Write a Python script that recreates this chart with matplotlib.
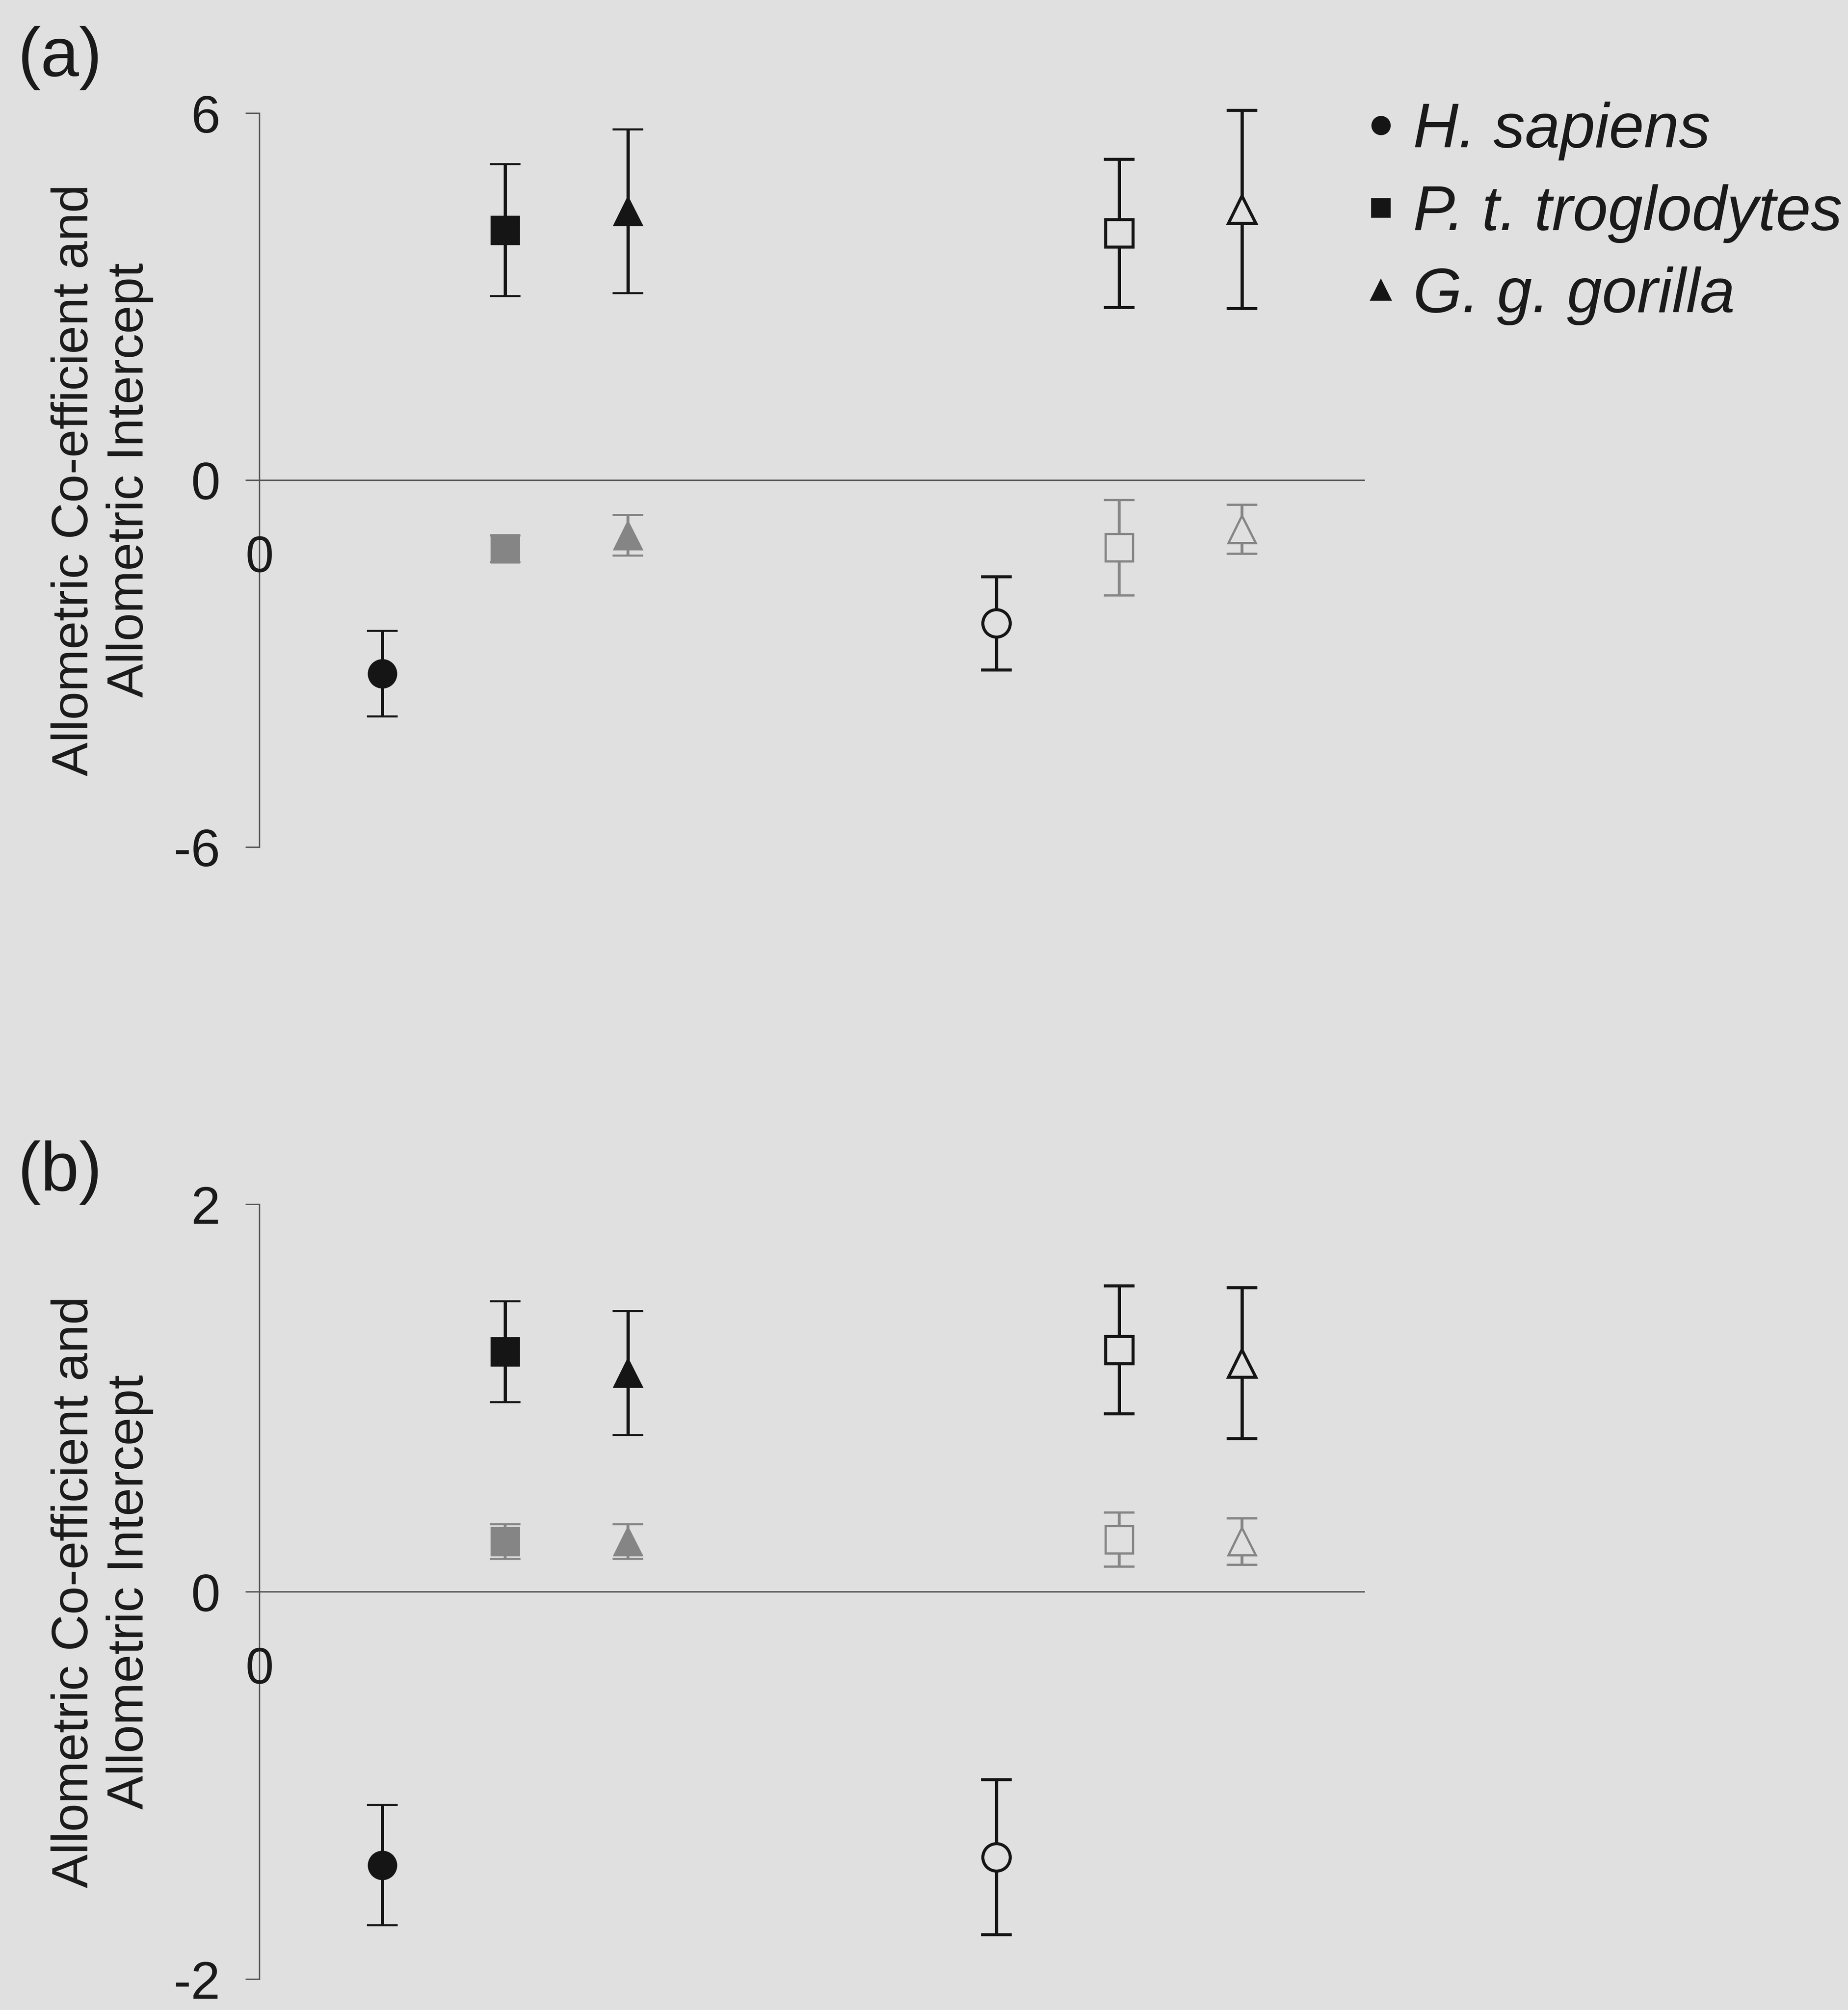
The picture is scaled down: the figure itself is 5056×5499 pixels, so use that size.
import numpy as np
import matplotlib.pyplot as plt
from matplotlib.lines import Line2D

plt.rcParams['font.family'] = ['Liberation Sans', 'DejaVu Sans']

bg = '#e0e0e0'
ink = '#151515'
grey = '#858585'

species = ['H. sapiens', 'P. t. troglodytes', 'G. g. gorilla']
markers = ['o', 's', '^']
x_filled = [1, 2, 3]
x_open = [6, 7, 8]

# panel (a)
a_filled_black = [-3.16, 4.09, 4.40]
a_filled_black_err = [0.70, 1.08, 1.34]
a_filled_grey = [np.nan, -1.12, -0.90]
a_filled_grey_err = [np.nan, 0.22, 0.33]
a_open_black = [-2.34, 4.04, 4.43]
a_open_black_err = [0.76, 1.21, 1.62]
a_open_grey = [np.nan, -1.10, -0.80]
a_open_grey_err = [np.nan, 0.78, 0.40]

# panel (b)
b_filled_black = [-1.41, 1.24, 1.13]
b_filled_black_err = [0.31, 0.26, 0.32]
b_filled_grey = [np.nan, 0.26, 0.26]
b_filled_grey_err = [np.nan, 0.09, 0.09]
b_open_black = [-1.37, 1.25, 1.18]
b_open_black_err = [0.40, 0.33, 0.39]
b_open_grey = [np.nan, 0.27, 0.26]
b_open_grey_err = [np.nan, 0.14, 0.12]


def draw_set(ax, xs, vals, errs, color, filled, mew, lw):
    for x, v, e, m in zip(xs, vals, errs, markers):
        if np.isnan(v):
            continue
        eb = ax.errorbar(x, v, yerr=e, fmt=m, ms=13.5,
                         mfc=color if filled else bg, mec=color, mew=mew,
                         ecolor=color, elinewidth=lw, capsize=7.5,
                         capthick=lw, zorder=3)
        for art in eb.get_children():
            art.set_clip_on(False)


def setup_axis(ax, lim):
    ax.set_facecolor('none')
    ax.set_xlim(0, 9)
    ax.set_ylim(-lim, lim)
    ax.set_yticks([-lim, 0, lim])
    ax.set_yticklabels([str(-lim), '0', str(lim)])
    for s in ['top', 'right', 'bottom']:
        ax.spines[s].set_visible(False)
    ax.spines['left'].set_color('#555555')
    ax.spines['left'].set_linewidth(0.7)
    ax.set_xticks([])
    ax.tick_params(axis='y', direction='out', length=6.8, width=0.7,
                   color='#555555', pad=12.5, labelsize=26, labelcolor='#1a1a1a')
    ax.axhline(0, color='#555555', lw=0.7, zorder=1)
    ax.annotate('0', xy=(0, 0), xytext=(0, -38.7), textcoords='offset points',
                ha='center', va='center', fontsize=25, color='#1a1a1a')
    ax.set_ylabel('Allometric Co-efficient and\nAllometric Intercept',
                  fontsize=25, color='#1a1a1a')
    ax.yaxis.set_label_coords(-0.096, 0.5)


fig = plt.figure(figsize=(12.64, 13.7475), dpi=400, facecolor=bg)
ax_a = fig.add_axes([0.1404, 0.5785, 0.5981, 0.3651])
ax_b = fig.add_axes([0.1404, 0.0152, 0.5981, 0.3856])

setup_axis(ax_a, 6)
draw_set(ax_a, x_filled, a_filled_grey, a_filled_grey_err, grey, True, 1.0, 1.4)
draw_set(ax_a, x_filled, a_filled_black, a_filled_black_err, ink, True, 1.0, 1.6)
draw_set(ax_a, x_open, a_open_grey, a_open_grey_err, grey, False, 1.1, 1.4)
draw_set(ax_a, x_open, a_open_black, a_open_black_err, ink, False, 1.5, 1.6)

setup_axis(ax_b, 2)
draw_set(ax_b, x_filled, b_filled_grey, b_filled_grey_err, grey, True, 1.0, 1.4)
draw_set(ax_b, x_filled, b_filled_black, b_filled_black_err, ink, True, 1.0, 1.6)
draw_set(ax_b, x_open, b_open_grey, b_open_grey_err, grey, False, 1.1, 1.4)
draw_set(ax_b, x_open, b_open_black, b_open_black_err, ink, False, 1.5, 1.6)

fig.text(0.0095, 0.971, '(a)', fontsize=34, ha='left', va='center', color='#1a1a1a')
fig.text(0.0095, 0.4166, '(b)', fontsize=34, ha='left', va='center', color='#1a1a1a')

handles = [Line2D([], [], ls='none', marker=m, color=ink, ms=s)
           for m, s in zip(markers, [8.5, 8.5, 9.5])]
fig.legend(handles, species, loc='upper left', bbox_to_anchor=(0.7388, 0.9494),
           frameon=False, prop={'style': 'italic', 'size': 31},
           handlelength=0.5, handletextpad=0.26, labelspacing=0.375,
           borderpad=0, borderaxespad=0, labelcolor='#1a1a1a')

fig.savefig('out.png', dpi=400, facecolor=bg)
